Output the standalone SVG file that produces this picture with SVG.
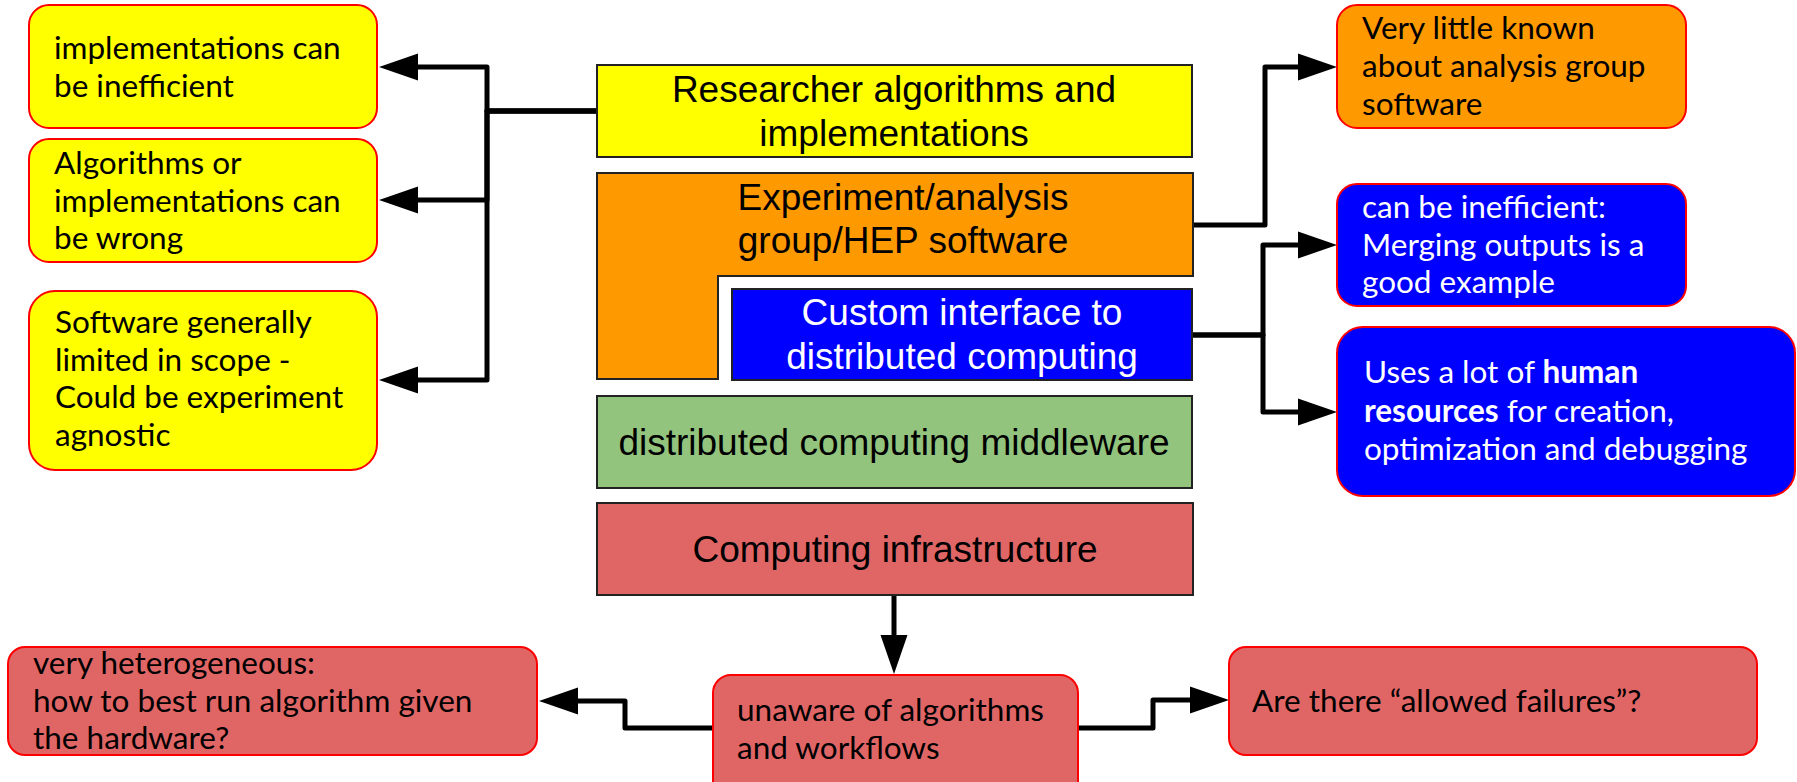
<svg xmlns="http://www.w3.org/2000/svg" width="1797" height="782" viewBox="0 0 1797 782">
  <style>
    .layer { stroke: #222; stroke-width: 2; }
    .callout { stroke: #ff0000; stroke-width: 2; }
    .big { font-family: "Liberation Sans", Arial, sans-serif; font-size: 37px; text-anchor: middle; }
    .note { font-family: Lato, "Noto Sans", sans-serif; font-size: 31.5px; }
    .dark { fill: #000; }
    .light { fill: #fff; }
    .wire { fill: none; stroke: #000; stroke-width: 5; stroke-linejoin: round; marker-end: url(#head); }
  </style>
  <defs>
    <marker id="head" markerUnits="userSpaceOnUse" markerWidth="39" markerHeight="28" viewBox="0 0 39 28" refX="1" refY="14" orient="auto">
      <path d="M0,0.5 L39,14 L0,27.5 Z" fill="#000"/>
    </marker>
  </defs>

  <rect width="1797" height="782" fill="#fff"/>

  <!-- connectors -->
  <g id="connectors">
    <path class="wire" d="M597,111 H487 V67 H417"/>
    <path class="wire" d="M597,111 H487 V200 H417"/>
    <path class="wire" d="M597,111 H487 V380 H417"/>
    <path class="wire" d="M1193,225 H1265 V67 H1299"/>
    <path class="wire" d="M1192,335 H1263 V245 H1299"/>
    <path class="wire" d="M1192,335 H1263 V412 H1299"/>
    <path class="wire" d="M894,595 V636"/>
    <path class="wire" d="M713,728 H625 V701 H577"/>
    <path class="wire" d="M1078,728 H1153 V700 H1191"/>
  </g>

  <!-- central stack of layers -->
  <g id="researcher">
    <rect class="layer" x="597" y="65" width="595" height="92" fill="#ffff00"/>
    <text class="big dark" x="894" y="102">Researcher algorithms and</text>
    <text class="big dark" x="894" y="146">implementations</text>
  </g>
  <g id="experiment">
    <path class="layer" d="M597,173 H1193 V276 H718 V379 H597 Z" fill="#ff9900"/>
    <text class="big dark" x="903" y="210">Experiment/analysis</text>
    <text class="big dark" x="903" y="253">group/HEP software</text>
  </g>
  <g id="custom-interface">
    <rect class="layer" x="732" y="289" width="460" height="91" fill="#0000ff"/>
    <text class="big light" x="962" y="325">Custom interface to</text>
    <text class="big light" x="962" y="369">distributed computing</text>
  </g>
  <g id="middleware">
    <rect class="layer" x="597" y="396" width="595" height="92" fill="#93c47d"/>
    <text class="big dark" x="894" y="455">distributed computing middleware</text>
  </g>
  <g id="infrastructure">
    <rect class="layer" x="597" y="503" width="596" height="92" fill="#e06666"/>
    <text class="big dark" x="895" y="562">Computing infrastructure</text>
  </g>

  <!-- left notes -->
  <g id="note-inefficient">
    <rect class="callout" x="29" y="5" width="348" height="123" rx="20" fill="#ffff00"/>
    <text class="note dark" x="54" y="59">implementations can</text>
    <text class="note dark" x="54" y="97">be inefficient</text>
  </g>
  <g id="note-wrong">
    <rect class="callout" x="29" y="139" width="348" height="123" rx="20" fill="#ffff00"/>
    <text class="note dark" x="54" y="174">Algorithms or</text>
    <text class="note dark" x="54" y="212">implementations can</text>
    <text class="note dark" x="54" y="249">be wrong</text>
  </g>
  <g id="note-scope">
    <rect class="callout" x="29" y="291" width="348" height="179" rx="26" fill="#ffff00"/>
    <text class="note dark" x="55" y="333">Software generally</text>
    <text class="note dark" x="55" y="371">limited in scope -</text>
    <text class="note dark" x="55" y="408">Could be experiment</text>
    <text class="note dark" x="55" y="446">agnostic</text>
  </g>

  <!-- right notes -->
  <g id="note-little-known">
    <rect class="callout" x="1337" y="5" width="349" height="123" rx="20" fill="#ff9900"/>
    <text class="note dark" x="1362" y="39">Very little known</text>
    <text class="note dark" x="1362" y="77">about analysis group</text>
    <text class="note dark" x="1362" y="115">software</text>
  </g>
  <g id="note-merging">
    <rect class="callout" x="1337" y="184" width="349" height="122" rx="20" fill="#0000ff"/>
    <text class="note light" x="1362" y="218">can be inefficient:</text>
    <text class="note light" x="1362" y="256">Merging outputs is a</text>
    <text class="note light" x="1362" y="293">good example</text>
  </g>
  <g id="note-human">
    <rect class="callout" x="1337" y="327" width="458" height="169" rx="26" fill="#0000ff"/>
    <text class="note light" x="1364" y="383">Uses a lot of <tspan font-weight="bold">human</tspan></text>
    <text class="note light" x="1364" y="422"><tspan font-weight="bold">resources</tspan> for creation,</text>
    <text class="note light" x="1364" y="460">optimization and debugging</text>
  </g>

  <!-- bottom notes -->
  <g id="note-unaware">
    <rect class="callout" x="713" y="675" width="365" height="125" rx="18" fill="#e06666"/>
    <text class="note dark" x="737" y="721">unaware of algorithms</text>
    <text class="note dark" x="737" y="759">and workflows</text>
  </g>
  <g id="note-heterogeneous">
    <rect class="callout" x="8" y="647" width="529" height="108" rx="17" fill="#e06666"/>
    <text class="note dark" x="33" y="674">very heterogeneous:</text>
    <text class="note dark" x="33" y="712">how to best run algorithm given</text>
    <text class="note dark" x="33" y="749">the hardware?</text>
  </g>
  <g id="note-failures">
    <rect class="callout" x="1229" y="647" width="528" height="108" rx="17" fill="#e06666"/>
    <text class="note dark" x="1252" y="712">Are there “allowed failures”?</text>
  </g>
</svg>
